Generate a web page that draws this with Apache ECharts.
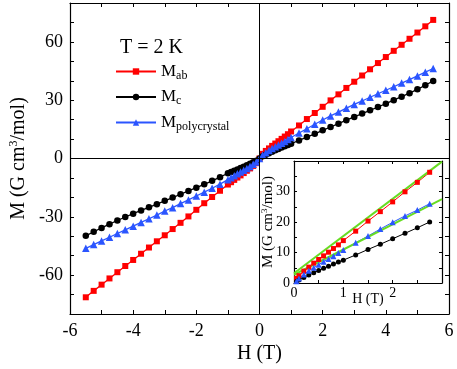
<!DOCTYPE html>
<html><head><meta charset="utf-8">
<script src="https://cdn.jsdelivr.net/npm/echarts@6/dist/echarts.min.js"></script>
<style>html,body{margin:0;padding:0;background:#fff}#c{width:457px;height:369px}</style>
</head><body><div id="c"></div>
<script>
// ---- main panel data (H in T, M in G cm3/mol) ----
const hField = [-5.5,-5.25,-5,-4.75,-4.5,-4.25,-4,-3.75,-3.5,-3.25,-3,-2.75,-2.5,-2.25,-2,-1.75,-1.5,-1.25,-1,-0.9,-0.8,-0.7,-0.6,-0.5,-0.4,-0.3,-0.2,-0.1,0,0.1,0.2,0.3,0.4,0.5,0.6,0.7,0.8,0.9,1,1.25,1.5,1.75,2,2.25,2.5,2.75,3,3.25,3.5,3.75,4,4.25,4.5,4.75,5,5.25,5.5];
const mAb = [-71.4,-68.1,-64.9,-61.7,-58.5,-55.3,-52.2,-49.0,-45.8,-42.6,-39.5,-36.3,-33.1,-29.8,-26.4,-23.0,-19.8,-16.6,-13.4,-12.2,-11.0,-9.8,-8.7,-7.5,-6.3,-5.1,-3.8,-2.4,0,2.4,3.9,5.2,6.5,7.7,8.9,10.1,11.3,12.5,13.9,17.0,20.3,23.4,26.6,29.9,33.0,36.3,39.5,42.7,45.9,49.1,52.2,55.4,58.5,61.6,64.8,68.0,71.3];
const mC = [-39.8,-37.7,-35.7,-33.8,-31.9,-30.1,-28.4,-26.7,-25.1,-23.5,-21.8,-20.1,-18.4,-16.7,-15.0,-13.3,-11.5,-9.6,-7.6,-7.0,-6.3,-5.6,-4.9,-4.2,-3.5,-2.7,-1.9,-1.1,0,1.1,1.9,2.7,3.5,4.2,4.9,5.6,6.3,7.0,7.6,9.3,11.0,12.7,14.5,16.2,17.9,19.7,21.4,23.1,24.8,26.5,28.2,30.0,31.8,33.6,35.6,37.7,39.9];
const mPoly = [-46.2,-44.3,-42.4,-40.5,-38.6,-36.7,-34.8,-32.9,-31.0,-29.1,-27.0,-25.3,-23.2,-21.3,-19.3,-17.3,-15.3,-13.2,-10.9,-9.9,-8.9,-7.9,-7.0,-6.1,-5.1,-4.1,-3.0,-1.8,0,1.8,3.0,4.1,5.1,6.1,7.0,7.9,8.8,9.8,10.8,13.1,15.3,17.6,19.8,21.9,23.9,25.9,27.8,29.6,31.5,33.3,35.1,36.9,38.8,40.6,42.5,44.4,46.3];
// ---- inset data ----
const insetH = [0.05,0.1,0.2,0.3,0.4,0.5,0.6,0.7,0.8,0.9,1,1.25,1.5,1.75,2,2.25,2.5,2.75];
const insetAb = [1.5,2.4,3.9,5.2,6.5,7.7,8.9,10.1,11.3,12.5,13.9,17.0,20.3,23.4,26.6,29.9,33.0,36.3];
const insetC = [0.5,1.0,1.8,2.6,3.4,4.1,4.8,5.5,6.2,6.9,7.5,9.2,11.0,12.7,14.5,16.3,18.1,20.0];
const insetPoly = [0.6,1.5,2.8,4.0,5.0,6.0,7.0,7.9,8.8,9.8,10.8,13.2,15.4,17.7,19.9,22.0,23.9,26.0];
const fitH = [0, 3];
const fitAb = [3.2, 39.8];
const fitPoly = [2.7, 27.5];
// ---- tick labels ----
const mainXLabels = [-6,-4,-2,0,2,4,6];
const mainYLabels = [-60,-30,0,30,60];
const insetXLabels = [0,1,2];
const insetYLabels = [0,10,20,30];

const FONT = '"Liberation Serif","Times New Roman",serif';
const RED = '#ff0000', BLACK = '#000000', BLUE = '#2b55ff', GREEN = '#66dd22';
const pairs = (xs, ys) => xs.map((x, i) => [x, ys[i]]);

function axis(o) {
  return {
    type: 'value', gridIndex: o.grid, position: o.pos, min: o.min, max: o.max, interval: o.interval,
    axisLine: { show: true, onZero: false, lineStyle: { color: '#000', width: 1.2 } },
    axisTick: { show: true, inside: true, length: o.tickLen, lineStyle: { color: '#000', width: 1 } },
    splitLine: { show: false },
    axisLabel: o.labels ? {
      show: true, margin: o.margin, color: '#000', fontFamily: FONT, fontSize: o.fontSize,
      formatter: v => (o.labels.some(l => Math.abs(l - v) < 1e-9) ? String(v) : '')
    } : { show: false },
    name: o.name || '', nameLocation: 'middle', nameGap: o.nameGap, nameMoveOverlap: false,
    nameTextStyle: o.nameStyle || {}
  };
}

const chart = echarts.init(document.getElementById('c'), null, { renderer: 'canvas' });
chart.setOption({
  animation: false,
  backgroundColor: '#fff',
  title: { text: 'T = 2 K', left: 120, top: 38, padding: 0,
    textStyle: { fontFamily: FONT, fontSize: 20, fontWeight: 'normal', color: '#000' } },
  legend: {
    orient: 'vertical', left: 115, top: 63, itemWidth: 40, itemHeight: 8, itemGap: 7, padding: 0,
    data: ['Mab', 'Mc', 'Mpoly'],
    formatter: n => ({ Mab: 'M{s|ab}', Mc: 'M{s|c}', Mpoly: 'M{s|polycrystal}' })[n],
    textStyle: { fontFamily: FONT, fontSize: 17, color: '#000',
      rich: { s: { fontFamily: FONT, fontSize: 12, color: '#000', padding: [8, 0, 0, 0] } } }
  },
  grid: [
    { left: 64, right: 8, top: 3, bottom: 54, containLabel: false },
    { left: 294, right: 15, top: 161, bottom: 86, containLabel: false }
  ],
  xAxis: [
    axis({ grid: 0, pos: 'bottom', min: -6, max: 6, interval: 1, tickLen: 4, labels: mainXLabels, margin: 8, fontSize: 18,
      name: 'H (T)', nameGap: 30, nameStyle: { fontFamily: FONT, fontSize: 20, color: '#000' } }),
    axis({ grid: 0, pos: 'top', min: -6, max: 6, interval: 1, tickLen: 4 }),
    axis({ grid: 1, pos: 'bottom', min: 0, max: 3, interval: 0.5, tickLen: 3, labels: insetXLabels, margin: 3, fontSize: 14,
      name: 'H (T)', nameGap: 9, nameStyle: { fontFamily: FONT, fontSize: 14, color: '#000' } }),
    axis({ grid: 1, pos: 'top', min: 0, max: 3, interval: 0.5, tickLen: 3 })
  ],
  yAxis: [
    axis({ grid: 0, pos: 'left', min: -80, max: 80, interval: 10, tickLen: 4, labels: mainYLabels, margin: 7, fontSize: 18,
      name: 'M (G cm{sup|3}/mol)', nameGap: 41,
      nameStyle: { fontFamily: FONT, fontSize: 20, color: '#000',
        rich: { sup: { fontFamily: FONT, fontSize: 12, color: '#000', padding: [0, 0, 9, 0] } } } }),
    axis({ grid: 0, pos: 'right', min: -80, max: 80, interval: 10, tickLen: 4 }),
    axis({ grid: 1, pos: 'left', min: 0, max: 40, interval: 5, tickLen: 3, labels: insetYLabels, margin: 4, fontSize: 14,
      name: 'M (G cm{sup|3}/mol)', nameGap: 18,
      nameStyle: { fontFamily: FONT, fontSize: 15, color: '#000',
        rich: { sup: { fontFamily: FONT, fontSize: 9, color: '#000', padding: [0, 0, 7, 0] } } } }),
    axis({ grid: 1, pos: 'right', min: 0, max: 40, interval: 5, tickLen: 3 })
  ],
  series: [
    { name: 'Mab', type: 'line', xAxisIndex: 0, yAxisIndex: 0, data: pairs(hField, mAb),
      symbol: 'rect', symbolSize: 6, lineStyle: { color: RED, width: 1.3 }, itemStyle: { color: RED },
      markLine: { silent: true, symbol: ['none', 'none'], label: { show: false },
        lineStyle: { color: '#000', width: 1, type: 'solid' }, data: [{ xAxis: 0 }, { yAxis: 0 }] } },
    { name: 'Mc', type: 'line', xAxisIndex: 0, yAxisIndex: 0, data: pairs(hField, mC),
      symbol: 'circle', symbolSize: 6.5, lineStyle: { color: BLACK, width: 1.3 }, itemStyle: { color: BLACK } },
    { name: 'Mpoly', type: 'line', xAxisIndex: 0, yAxisIndex: 0, data: pairs(hField, mPoly),
      symbol: 'triangle', symbolSize: 7.5, lineStyle: { color: BLUE, width: 1.3 }, itemStyle: { color: BLUE } },
    { name: 'insetAb', type: 'line', xAxisIndex: 2, yAxisIndex: 2, data: pairs(insetH, insetAb),
      symbol: 'rect', symbolSize: 5, lineStyle: { color: RED, width: 1 }, itemStyle: { color: RED } },
    { name: 'insetC', type: 'line', xAxisIndex: 2, yAxisIndex: 2, data: pairs(insetH, insetC),
      symbol: 'circle', symbolSize: 5, lineStyle: { color: BLACK, width: 1 }, itemStyle: { color: BLACK } },
    { name: 'insetPoly', type: 'line', xAxisIndex: 2, yAxisIndex: 2, data: pairs(insetH, insetPoly),
      symbol: 'triangle', symbolSize: 6, lineStyle: { color: BLUE, width: 1 }, itemStyle: { color: BLUE } },
    { name: 'fitAb', type: 'line', xAxisIndex: 2, yAxisIndex: 2, data: pairs(fitH, fitAb),
      showSymbol: false, symbol: 'none', lineStyle: { color: GREEN, width: 2 } },
    { name: 'fitPoly', type: 'line', xAxisIndex: 2, yAxisIndex: 2, data: pairs(fitH, fitPoly),
      showSymbol: false, symbol: 'none', lineStyle: { color: GREEN, width: 2 } }
  ]
});
</script>
</body></html>
